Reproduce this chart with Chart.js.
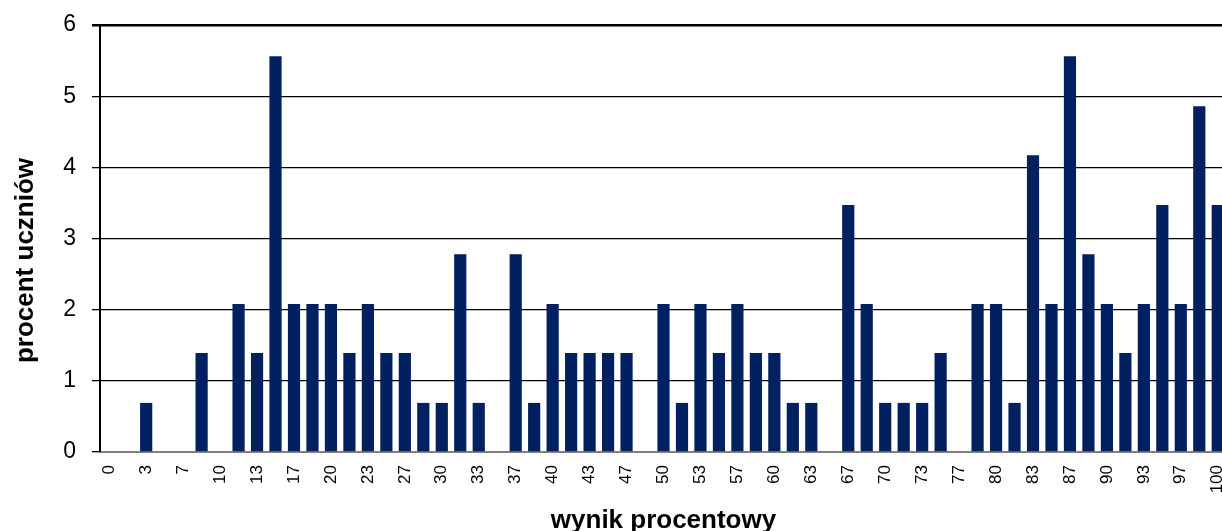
<!DOCTYPE html>
<html>
<head>
<meta charset="utf-8">
<script src="https://cdn.jsdelivr.net/npm/chart.js@4/dist/chart.umd.min.js"></script>
<style>
  html, body { margin: 0; padding: 0; background: #fff; overflow: hidden; }
  #wrap { width: 1227px; height: 531px; position: relative; }
</style>
</head>
<body>
<div id="wrap"><canvas id="scoreChart"></canvas></div>
<script>
// wynik procentowy (percent score, 0..60 points of 60)
const scoreLabels = [
  "0", "2", "3", "5", "7", "8", "10", "12", "13", "15",
  "17", "18", "20", "22", "23", "25", "27", "28", "30", "32",
  "33", "35", "37", "38", "40", "42", "43", "45", "47", "48",
  "50", "52", "53", "55", "57", "58", "60", "62", "63", "65",
  "67", "68", "70", "72", "73", "75", "77", "78", "80", "82",
  "83", "85", "87", "88", "90", "92", "93", "95", "97", "98",
  "100"
];

// procent uczniów (percent of students)
const studentPercent = [
  0, 0, 0.69, 0, 0, 1.39, 0, 2.08, 1.39, 5.56,
  2.08, 2.08, 2.08, 1.39, 2.08, 1.39, 1.39, 0.69, 0.69, 2.78,
  0.69, 0, 2.78, 0.69, 2.08, 1.39, 1.39, 1.39, 1.39, 0,
  2.08, 0.69, 2.08, 1.39, 2.08, 1.39, 1.39, 0.69, 0.69, 0,
  3.47, 2.08, 0.69, 0.69, 0.69, 1.39, 0, 2.08, 2.08, 0.69,
  4.17, 2.08, 5.56, 2.78, 2.08, 1.39, 2.08, 3.47, 2.08, 4.86,
  3.47
];

const yTicks = [0, 1, 2, 3, 4, 5, 6];

const FONT = "Arial, 'Liberation Sans', sans-serif";
const yTitle = "procent uczniów";

// y title is centred on the whole chart height, like the original
const yTitlePlugin = {
  id: "yTitle",
  afterDraw(chart) {
    const ctx = chart.ctx;
    ctx.save();
    ctx.translate(26, chart.height / 2 - 5);
    ctx.rotate(-Math.PI / 2);
    ctx.font = "bold 26px " + FONT;
    ctx.fillStyle = "#000";
    ctx.textAlign = "center";
    ctx.textBaseline = "middle";
    ctx.fillText(yTitle, 0, 0);
    ctx.restore();
  }
};

new Chart(document.getElementById("scoreChart"), {
  type: "bar",
  data: {
    labels: scoreLabels,
    datasets: [{
      data: studentPercent,
      backgroundColor: "#00205f",
      borderWidth: 0,
      categoryPercentage: 1,
      barPercentage: 0.66
    }]
  },
  plugins: [yTitlePlugin],
  options: {
    responsive: true,
    maintainAspectRatio: false,
    animation: false,
    layout: { padding: { top: 25, right: 0, left: 0, bottom: 0 } },
    plugins: {
      legend: { display: false },
      tooltip: { enabled: false }
    },
    scales: {
      x: {
        afterFit: scale => {
          scale.height = 79;
          scale.paddingLeft = 0;
          scale.paddingRight = 0;
        },
        grid: { display: false, drawTicks: false },
        border: { color: "#808080", width: 2 },
        ticks: {
          autoSkip: false,
          minRotation: 90,
          maxRotation: 90,
          padding: 13,
          color: "#000",
          font: { family: FONT, size: 17 },
          callback: function (val, idx) {
            return idx % 2 === 0 ? this.getLabelForValue(val) : "";
          }
        },
        title: {
          display: true,
          text: "wynik procentowy",
          color: "#000",
          font: { family: FONT, size: 26, weight: "bold", lineHeight: 0.8 },
          padding: { top: 0, bottom: 0 }
        }
      },
      y: {
        min: yTicks[0],
        max: yTicks[yTicks.length - 1],
        afterFit: scale => {
          scale.width = 100;
          scale.paddingTop = 0;
          scale.paddingBottom = 0;
        },
        grid: {
          color: "#000",
          lineWidth: ctx => (ctx.tick && ctx.tick.value === 6 ? 2.5 : 1.3),
          tickLength: 8,
          tickColor: "#000"
        },
        border: { color: "#000", width: 2 },
        ticks: {
          stepSize: 1,
          padding: 16,
          color: "#000",
          font: { family: FONT, size: 23 }
        },
        title: { display: false }
      }
    }
  }
});
</script>
</body>
</html>
